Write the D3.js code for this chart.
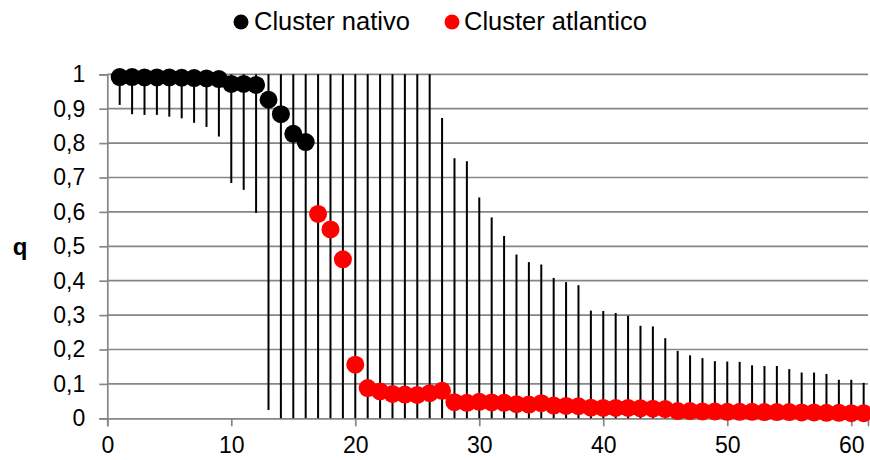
<!DOCTYPE html>
<html><head><meta charset="utf-8">
<script src="https://cdn.jsdelivr.net/npm/d3@7"></script>
<style>body{margin:0;background:#fff}svg{display:block}text{font-family:"Liberation Sans",Arial,sans-serif}</style>
</head><body>
<svg id="c" width="870" height="460"></svg>
<script>
const xValues = d3.range(1, 62);
const clusterOf = xValues.map(x => x <= 16 ? "nativo" : "atlantico");
const qValues = [0.992,0.992,0.991,0.991,0.991,0.990,0.989,0.988,0.986,0.972,0.972,0.969,0.926,0.884,0.827,0.803,
  0.594,0.549,0.462,0.156,0.088,0.078,0.071,0.069,0.068,0.073,0.080,0.047,0.045,0.048,0.046,0.045,0.041,0.040,0.044,
  0.037,0.036,0.035,0.031,0.030,0.030,0.030,0.029,0.028,0.027,0.021,0.021,0.020,0.020,0.019,0.019,0.019,0.018,0.018,
  0.018,0.017,0.017,0.016,0.016,0.015,0.015];
const lowerValues = [0.911,0.884,0.882,0.882,0.877,0.872,0.859,0.847,0.819,0.684,0.664,0.597,0.024,
  0,0,0,0,0,0,0,0,0,0,0,0,0,0,0,0,0,0,0,0,0,0,0,0,0,0,0,0,0,0,0,0,0,0,0,0,0,0,0,0,0,0,0,0,0,0,0,0];
const upperValues = [1,1,1,1,1,1,1,1,1,1,1,1,1,1,1,1,1,1,1,1,1,1,1,1,1,1,
  0.873,0.756,0.747,0.642,0.584,0.530,0.476,0.454,0.447,0.408,0.396,0.387,0.313,0.312,0.306,0.298,0.269,0.267,0.233,
  0.196,0.183,0.175,0.166,0.165,0.164,0.154,0.152,0.152,0.143,0.133,0.133,0.129,0.112,0.112,0.103];
const xTicks = [0,10,20,30,40,50,60];
const yTicks = [0,0.1,0.2,0.3,0.4,0.5,0.6,0.7,0.8,0.9,1];
const seriesNames = ["Cluster nativo","Cluster atlantico"];
const seriesKeys = ["nativo","atlantico"];
const seriesColors = {nativo:"#000000", atlantico:"#ff0000"};

const svg = d3.select("#c");
const x = d3.scaleLinear().domain([0, 61.35]).range([107.3, 868]);
const y = d3.scaleLinear().domain([0, 1]).range([418.3, 74.3]);
const grid = "#868686";
const fmt = d => String(d).replace(".", ",");

// gridlines
svg.append("g").selectAll("line").data(yTicks.slice(1)).join("line")
  .attr("x1", x(0)).attr("x2", x(61.35)).attr("y1", d => y(d)).attr("y2", d => y(d))
  .attr("stroke", grid).attr("stroke-width", 1.7);

// y axis
const ya = svg.append("g").attr("transform", `translate(${x(0)},0)`)
  .call(d3.axisLeft(y).tickValues(yTicks).tickFormat(fmt).tickSize(8).tickPadding(14));
ya.select(".domain").attr("stroke", grid).attr("stroke-width", 1.7);
ya.selectAll(".tick line").attr("stroke", grid).attr("stroke-width", 1.7);
ya.selectAll("text").attr("font-size", 23).attr("fill", "#000").attr("font-family", "Liberation Sans, Arial, sans-serif");

// x axis
const xa = svg.append("g").attr("transform", `translate(0,${y(0)})`)
  .call(d3.axisBottom(x).tickValues(xTicks).tickSize(8).tickPadding(10));
xa.select(".domain").attr("stroke", grid).attr("stroke-width", 1.7);
xa.selectAll(".tick line").attr("stroke", grid).attr("stroke-width", 1.7);
xa.selectAll("text").attr("font-size", 23).attr("fill", "#000").attr("font-family", "Liberation Sans, Arial, sans-serif");

// q label
svg.append("text").attr("x", 20).attr("y", 249).attr("text-anchor", "middle").attr("dominant-baseline", "middle")
  .attr("font-size", 24).attr("font-weight", "bold").text("q");

const data = xValues.map((xv, i) => ({x: xv, q: qValues[i], lo: lowerValues[i], hi: upperValues[i], c: clusterOf[i]}));

// error bars
svg.append("g").selectAll("line").data(data).join("line")
  .attr("x1", d => x(d.x)).attr("x2", d => x(d.x))
  .attr("y1", d => y(d.lo)).attr("y2", d => y(d.hi))
  .attr("stroke", "#000").attr("stroke-width", 2);

// markers
seriesKeys.forEach(k => {
  svg.append("g").selectAll("circle").data(data.filter(d => d.c === k)).join("circle")
    .attr("cx", d => x(d.x)).attr("cy", d => y(d.q)).attr("r", 9)
    .attr("fill", seriesColors[k]);
});

// legend
const leg = [{cx: 241, tx: 254}, {cx: 452, tx: 464}];
seriesKeys.forEach((k, i) => {
  svg.append("circle").attr("cx", leg[i].cx).attr("cy", 22).attr("r", 7.5).attr("fill", seriesColors[k]);
  svg.append("text").attr("x", leg[i].tx).attr("y", 23).attr("dominant-baseline", "middle")
    .attr("font-size", 25.5).text(seriesNames[i]);
});
</script>
</body></html>
